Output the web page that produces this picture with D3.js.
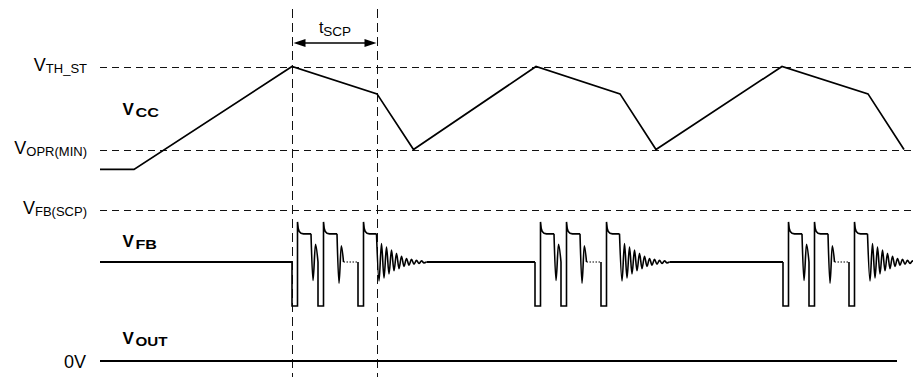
<!DOCTYPE html>
<html><head><meta charset="utf-8">
<script src="https://cdn.jsdelivr.net/npm/d3@7"></script>
<style>
html,body{margin:0;padding:0;background:#fff;}
svg{display:block;font-family:"Liberation Sans",Arial,Helvetica,sans-serif;}
</style>
</head><body>
<svg id="c" width="913" height="377"></svg>
<script>
// ---- data (time in arbitrary units, t = 0 at the start of the traces) ----
const vccTimes  = [0, 34, 192, 277, 313.5, 436, 520, 556, 682, 768, 804];
const vccValues = [0.76, 0.76, 2, 1.67, 1, 2, 1.67, 1, 2, 1.67, 1];
const vthSt = 2, voprMin = 1;            // VCC thresholds
const vfbScp = 2.19;                     // VFB SCP threshold
const markerTimes = [192, 277];          // tSCP window
const burstStarts = [192, 435, 683];     // VFB bursts (at VCC peaks)
const pulseOffsets = [0, 26, 66];        // pulse starts inside a burst
const pulseLow = 5.5;                    // low time of each pulse
const plateauEnds = [19, 19, 18.5];      // end of high plateau (from pulse start)
const vfbNormal = 1.0, vfbLow = 0, vfbPlateau = 1.64;
const spike = [[0,1.91],[0.7,1.77],[1.8,1.69],[3.5,1.655],[6,1.64]];
const ring1 = [[0,1.64],[2,0.58],[4.5,1.4],[7,1.0]];
const ring2 = [[0,1.64],[2,0.52],[4.3,1.37],[6.5,1.0]];
const ring3 = [[0,1.64],[2.5,0.57],[5,1.42],[7.5,0.64],[10,1.34],[12.5,0.73],[15,1.27],[17.5,0.8],[20,1.2],[22.5,0.85],[25,1.13],[27.5,0.9],[30,1.08],[32.5,0.93],[35,1.06],[37.5,0.95],[40,1.04],[42.5,0.965],[45,1.025],[47.5,0.98],[50,1.0]];
const rings = [ring1, ring2, ring3];
const voutLevel = 0;
const tEnd = 813, voutEnd = 797;

const levelLabels = [
  {main:"V", sub:"TH_ST", trace:"vcc", v:vthSt},
  {main:"V", sub:"OPR(MIN)", trace:"vcc", v:voprMin},
  {main:"V", sub:"FB(SCP)", trace:"fb", v:vfbScp}
];
const traceLabels = [
  {main:"V", sub:"CC", trace:"vcc", v:1.41, len:23.5},
  {main:"V", sub:"FB", trace:"fb", v:1.35, len:21.5},
  {main:"V", sub:"OUT", trace:"out", v:0.55, len:32}
];

// ---- scales ----
const svg = d3.select("#c");
const x = d3.scaleLinear().domain([0, tEnd]).range([100, 913]);
const yVcc = d3.scaleLinear().domain([1, 2]).range([149.5, 66.5]);
const yFb  = d3.scaleLinear().domain([0, 1]).range([306, 262]);
const yOut = d3.scaleLinear().domain([0, 1]).range([361, 330]);
const ys = {vcc:yVcc, fb:yFb, out:yOut};

// ---- dashed reference lines ----
const hLines = [{t:"vcc", v:vthSt}, {t:"vcc", v:voprMin}, {t:"fb", v:vfbScp}];
svg.selectAll("line.ref").data(hLines).join("line")
  .attr("x1", x(0)).attr("x2", 913)
  .attr("y1", d => Math.round(ys[d.t](d.v)) + 0.5).attr("y2", d => Math.round(ys[d.t](d.v)) + 0.5)
  .attr("stroke", "#111").attr("stroke-width", 1).attr("stroke-dasharray", "7,5");

svg.selectAll("line.mark").data(markerTimes).join("line")
  .attr("x1", d => Math.round(x(d)) + 0.5).attr("x2", d => Math.round(x(d)) + 0.5)
  .attr("y1", 9).attr("y2", 377)
  .attr("stroke", "#111").attr("stroke-width", 1).attr("stroke-dasharray", "9,5");

// ---- VCC ----
const vccPts = vccTimes.map((t,i) => [t, vccValues[i]]);
svg.append("path")
  .attr("d", d3.line().x(d => x(d[0])).y(d => yVcc(d[1]))(vccPts))
  .attr("fill", "none").attr("stroke", "#000").attr("stroke-width", 1.7).attr("stroke-linejoin","miter");

// ---- VFB ----
const fbLine = d3.line().x(d => x(d[0])).y(d => yFb(d[1]));
const fbCurve = d3.line().x(d => x(d[0])).y(d => yFb(d[1])).curve(d3.curveMonotoneX);
const gFb = svg.append("g").attr("fill","none").attr("stroke","#000").attr("stroke-width",1.6);
const burstEnds = burstStarts.map(b => b + pulseOffsets[2] + plateauEnds[2] + ring3[ring3.length-1][0]);
const baseSegs = [[0, burstStarts[0]]];
for (let i = 1; i < burstStarts.length; i++) baseSegs.push([burstEnds[i-1], burstStarts[i]]);
baseSegs.forEach(s => gFb.append("path").attr("d", fbLine([[s[0], vfbNormal],[s[1], vfbNormal]])).attr("stroke-width", 1.9));

burstStarts.forEach(b => {
  pulseOffsets.forEach((po, k) => {
    const d0 = b + po;
    const rise = d0 + pulseLow;
    const pe = d0 + plateauEnds[k];
    const pts = [[d0, vfbNormal],[d0, vfbLow],[rise, vfbLow]]
      .concat(spike.map(s => [rise + s[0], s[1]]))
      .concat([[pe, vfbPlateau]]);
    gFb.append("path").attr("d", fbLine(pts)).attr("stroke-linejoin","miter");
    const r = rings[k].map(s => [pe + s[0], s[1]]);
    gFb.append("path").attr("d", fbCurve(r));
    if (k === 1) {
      const endR = r[r.length-1][0];
      gFb.append("path").attr("d", fbLine([[endR, vfbNormal],[b + pulseOffsets[2], vfbNormal]]))
        .attr("stroke-width", 1).attr("stroke-dasharray", "1.5,1.5");
    }
  });
});

// ---- VOUT ----
svg.append("path")
  .attr("d", d3.line().x(d => x(d[0])).y(d => yOut(d[1]))([[0, voutLevel],[voutEnd, voutLevel]]))
  .attr("stroke", "#000").attr("stroke-width", 2);

// ---- tSCP arrow ----
const ay = 43, ah = 12, aw = 4;
const xa = x(markerTimes[0]), xb = x(markerTimes[1]);
svg.append("line").attr("x1", xa + ah - 1).attr("x2", xb - ah + 1).attr("y1", ay).attr("y2", ay)
  .attr("stroke", "#000").attr("stroke-width", 1.6);
svg.append("path").attr("d", `M${xa+1.5},${ay} L${xa+1.5+ah},${ay-aw} L${xa+1.5+ah},${ay+aw} Z`).attr("fill", "#000");
svg.append("path").attr("d", `M${xb-0.5},${ay} L${xb-0.5-ah},${ay-aw} L${xb-0.5-ah},${ay+aw} Z`).attr("fill", "#000");
const ts = svg.append("text").attr("x", (xa+xb)/2 + 0.5).attr("y", 33).attr("text-anchor","middle").attr("font-size", 16);
ts.append("tspan").text("t");
ts.append("tspan").attr("font-size", 13.5).attr("dy", 2.5).text("SCP");

// ---- level labels ----
levelLabels.forEach(l => {
  const t = svg.append("text").attr("x", 87).attr("y", ys[l.trace](l.v) + 4.5)
    .attr("text-anchor", "end").attr("font-size", 18).attr("fill", "#000");
  t.append("tspan").text(l.main);
  t.append("tspan").attr("font-size", 13).attr("dy", 2).text(l.sub);
});

// ---- trace labels (bold) ----
traceLabels.forEach(l => {
  const yb = ys[l.trace](l.v);
  svg.append("text").attr("x", 122.5).attr("y", yb).attr("font-size", 17).attr("font-weight", "bold").text(l.main);
  svg.append("text").attr("x", 135.5).attr("y", yb + 2).attr("font-size", 13).attr("font-weight", "bold")
    .attr("textLength", l.len).attr("lengthAdjust", "spacingAndGlyphs").text(l.sub);
});

// ---- 0V ----
svg.append("text").attr("x", 86).attr("y", yOut(voutLevel) + 6.5).attr("text-anchor", "end")
  .attr("font-size", 18).text("0V");
</script>
</body></html>
